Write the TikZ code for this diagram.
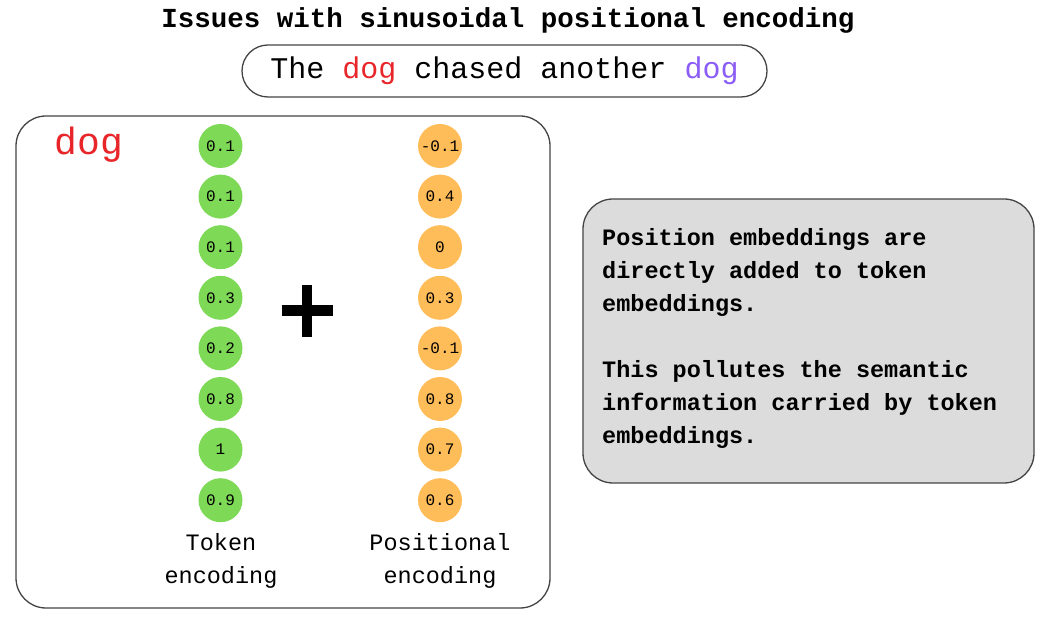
\documentclass[tikz,border=0pt]{standalone}
\usepackage{fontspec}
\setmainfont{Liberation Mono}
\definecolor{dogred}{HTML}{E8262A}
\definecolor{dogpurple}{HTML}{8B5CF6}
\definecolor{tokgreen}{HTML}{7ED957}
\definecolor{posorange}{HTML}{FFBD59}
\definecolor{notegray}{HTML}{DCDCDC}
\definecolor{edgegray}{HTML}{444444}
\tikzset{
  frame/.style={draw=edgegray, line width=1.3pt, rounded corners=30pt},
  valcirc/.style={circle, minimum size=44pt, inner sep=0pt, font=\fontsize{16}{18}\selectfont},
  tokcirc/.style={valcirc, fill=tokgreen},
  poscirc/.style={valcirc, fill=posorange},
  lbl/.style={align=center, font=\fontsize{23.5}{33}\selectfont, inner sep=0pt},
}
\begin{document}
\begin{tikzpicture}[x=1pt,y=-1pt]
\useasboundingbox (0,0) rectangle (1042,617);
\node[font=\fontsize{27.5}{30}\selectfont\bfseries] (title) at (508,20) {Issues with sinusoidal positional encoding};
\node[draw=edgegray, line width=1.3pt, rounded corners=26pt, minimum width=525pt, minimum height=52pt, inner sep=0pt,
      font=\fontsize{30}{32}\selectfont] (sent) at (504.5,71) {The \textcolor{dogred}{dog} chased another \textcolor{dogpurple}{dog}};
\node[frame, minimum width=534pt, minimum height=492pt, inner sep=0pt] (main) at (283,362) {};
\node[text=dogred, font=\fontsize{38}{40}\selectfont, inner sep=0pt] (dog) at (89,145) {dog};
\foreach \v [count=\i] in {0.1,0.1,0.1,0.3,0.2,0.8,1,0.9}
  \node[tokcirc] (t\i) at (220.5,{146+50.6*(\i-1)}) {\v};
\foreach \v [count=\i] in {-0.1,0.4,0,0.3,-0.1,0.8,0.7,0.6}
  \node[poscirc] (p\i) at (440,{146+50.6*(\i-1)}) {\v};
\coordinate (plus) at (307,311);
\draw[line width=11pt] ([xshift=-25.5pt]plus) -- ([xshift=25.5pt]plus);
\draw[line width=10pt] ([yshift=26pt]plus) -- ([yshift=-26pt]plus);
\node[lbl] (toklbl) at (221,561) {Token\\encoding};
\node[lbl] (poslbl) at (440,561) {Positional\\encoding};
\node[frame, fill=notegray, minimum width=451pt, minimum height=284pt, inner sep=0pt] (note) at (808.5,341) {};
\node[anchor=north west, align=left, inner sep=0pt, font=\fontsize{23.5}{33}\selectfont\bfseries] (notetext) at (602,228)
  {Position embeddings are\\directly added to token\\embeddings.\\[33pt]This pollutes the semantic\\information carried by token\\embeddings.};
\end{tikzpicture}
\end{document}
